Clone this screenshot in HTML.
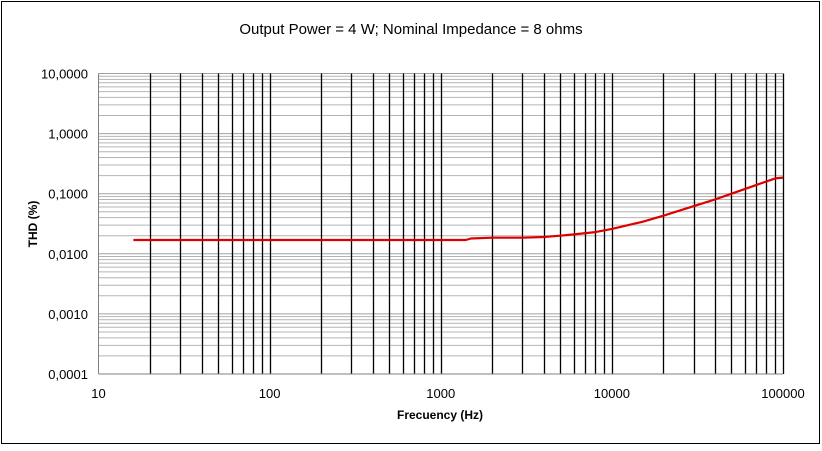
<!DOCTYPE html>
<html><head><meta charset="utf-8"><style>
body{margin:0;background:#fff;font-family:"Liberation Sans",Arial,sans-serif}
svg text{font-family:"Liberation Sans",Arial,sans-serif}
</style></head><body>
<svg id="chart" width="822" height="446" xmlns="http://www.w3.org/2000/svg">
<rect x="1.5" y="1.5" width="818" height="442" fill="#fff" stroke="#000" stroke-width="1"/>
<text x="411" y="34" text-anchor="middle" font-size="15">Output Power = 4 W; Nominal Impedance = 8 ohms</text>
<text transform="translate(37,224) rotate(-90)" text-anchor="middle" font-size="12" font-weight="bold">THD (%)</text>
<text x="440" y="419" text-anchor="middle" font-size="12" font-weight="bold">Frecuency (Hz)</text>
<g id="grid"></g><g id="series"></g><g id="labels"></g>
</svg>
<script>
const xTicks=[10,100,1000,10000,100000];
const xTickLabels=["10","100","1000","10000","100000"];
const yTicks=[0.0001,0.001,0.01,0.1,1,10];
const yTickLabels=["0,0001","0,0010","0,0100","0,1000","1,0000","10,0000"];
const freq=[16,100,500,1000,1400,1500,2000,3000,4000,5000,6000,8000,10000,15000,20000,30000,40000,50000,70000,90000,100000];
const thd=[0.017,0.017,0.017,0.017,0.017,0.018,0.0185,0.0185,0.019,0.02,0.021,0.023,0.026,0.034,0.043,0.062,0.08,0.1,0.14,0.18,0.185];
const L=98.5,R=783,T=73.5,B=374;
const NS="http://www.w3.org/2000/svg";
function X(v){return L+(Math.log10(v)-1)/4*(R-L);}
function Y(v){return B-(Math.log10(v)+4)/5*(B-T);}
function mk(t,a,p){const e=document.createElementNS(NS,t);for(const k in a)e.setAttribute(k,a[k]);p.appendChild(e);return e;}
const g=document.getElementById('grid');
for(let d=-4;d<1;d++){for(let m=2;m<=9;m++){const y=Y(m*Math.pow(10,d));
const ln=mk('line',{x1:L,x2:R,y1:y,y2:y,stroke:'#b4b4b4','stroke-width':1},g);

}}
yTicks.forEach(v=>{const y=Y(v);
const ln=mk('line',{x1:L,x2:R,y1:y,y2:y,stroke:'#a0a0a0','stroke-width':1},g);

});
for(let d=1;d<5;d++){for(let m=2;m<=10;m++){const x=Math.round(X(m*Math.pow(10,d)))+0.5;
const ln=mk('line',{x1:x,x2:x,y1:T,y2:B,stroke:'#000','stroke-width':1.3},g);

}}
const ax=mk('line',{x1:L,x2:L,y1:T,y2:B,stroke:'#808080'},g);


const bx=mk('line',{x1:L,x2:R,y1:B,y2:B,stroke:'#808080'},g);


const lb=document.getElementById('labels');
yTicks.forEach((v,i)=>{const t=mk('text',{x:88,y:Y(v)+5,'text-anchor':'end','font-size':13},lb);t.textContent=yTickLabels[i];

});
xTicks.forEach((v,i)=>{const t=mk('text',{x:X(v),y:398,'text-anchor':'middle','font-size':13},lb);t.textContent=xTickLabels[i];

});
const pts=freq.map((f,i)=>X(f).toFixed(1)+','+Y(thd[i]).toFixed(1)).join(' ');
const pl=mk('polyline',{points:pts,fill:'none',stroke:'#dd0000','stroke-width':2.2,'stroke-linejoin':'round'},document.getElementById('series'));


</script>
</body></html>
